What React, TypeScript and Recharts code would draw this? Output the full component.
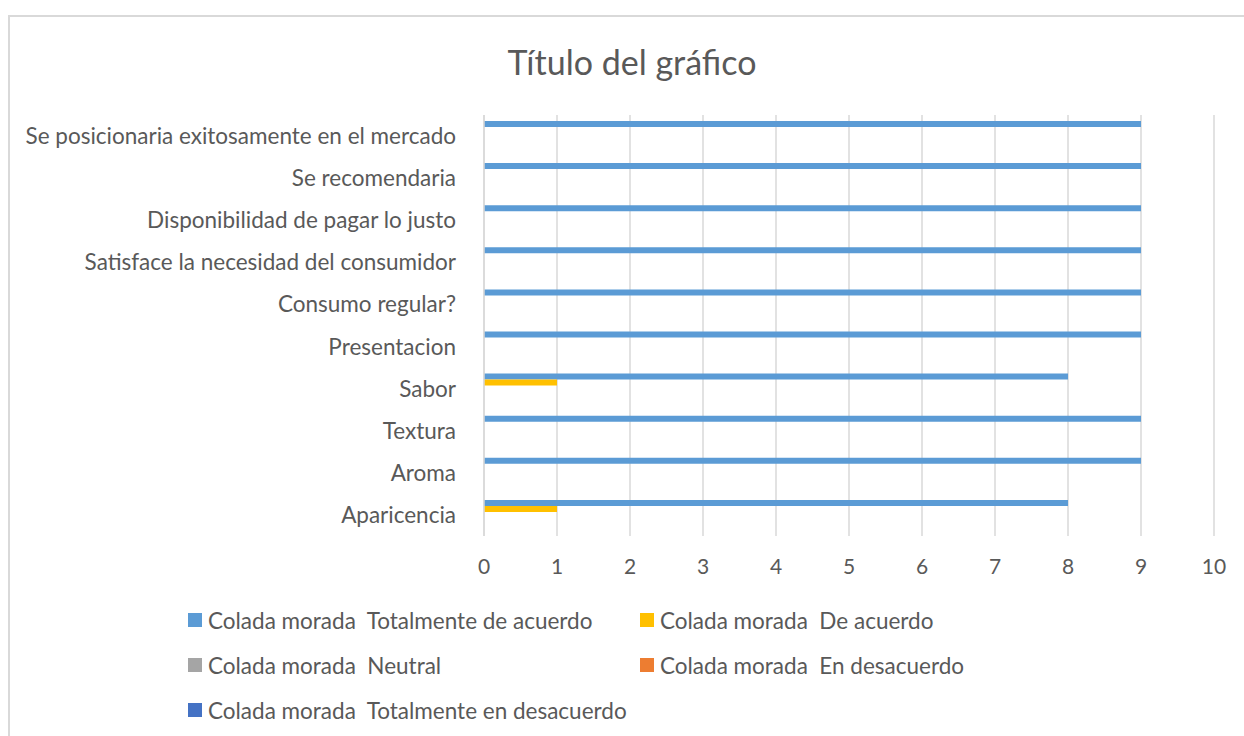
import { BarChart, Bar, XAxis, YAxis, CartesianGrid } from "recharts";

const categories = [
  "Se posicionaria exitosamente en el mercado",
  "Se recomendaria",
  "Disponibilidad de pagar lo justo",
  "Satisface la necesidad del consumidor",
  "Consumo regular?",
  "Presentacion",
  "Sabor",
  "Textura",
  "Aroma",
  "Aparicencia",
];

const totalmenteDeAcuerdo = [9, 9, 9, 9, 9, 9, 8, 9, 9, 8];
const deAcuerdo = [0, 0, 0, 0, 0, 0, 1, 0, 0, 1];
const neutral = [0, 0, 0, 0, 0, 0, 0, 0, 0, 0];
const enDesacuerdo = [0, 0, 0, 0, 0, 0, 0, 0, 0, 0];
const totalmenteEnDesacuerdo = [0, 0, 0, 0, 0, 0, 0, 0, 0, 0];

const xTicks = [0, 1, 2, 3, 4, 5, 6, 7, 8, 9, 10];

const series = [
  { key: "tda", name: "Colada morada  Totalmente de acuerdo", color: "#5B9BD5", values: totalmenteDeAcuerdo },
  { key: "da", name: "Colada morada  De acuerdo", color: "#FFC000", values: deAcuerdo },
  { key: "neu", name: "Colada morada  Neutral", color: "#A5A5A5", values: neutral },
  { key: "ed", name: "Colada morada  En desacuerdo", color: "#ED7D31", values: enDesacuerdo },
  { key: "ted", name: "Colada morada  Totalmente en desacuerdo", color: "#4472C4", values: totalmenteEnDesacuerdo },
];

const data = categories.map((name, i) => {
  const row: Record<string, string | number> = { name };
  series.forEach((s) => {
    row[s.key] = s.values[i];
  });
  return row;
});

const font = "Lato, 'Open Sans', sans-serif";
const textColor = "#595959";
const labelSize = 22.5;

// legend rows: two columns, left to right then down
const legendPos = [
  { left: 178, top: 592 },
  { left: 630, top: 592 },
  { left: 178, top: 637 },
  { left: 630, top: 637 },
  { left: 178, top: 682 },
];

export default function App() {
  return (
    <div
      style={{
        position: "fixed",
        left: 8,
        top: 15,
        width: 1236,
        height: 721,
        borderTop: "2px solid #d9d9d9",
        borderLeft: "2px solid #d9d9d9",
        background: "#fff",
        fontFamily: font,
        overflow: "hidden",
      }}
    >
      <div
        style={{
          position: "absolute",
          left: 0,
          width: 1244,
          top: 24,
          textAlign: "center",
          fontSize: 34,
          color: textColor,
        }}
      >
        Título del gráfico
      </div>
      <BarChart
        width={1234}
        height={719}
        data={data}
        layout="vertical"
        margin={{ top: 98, right: 30, bottom: 150, left: 0 }}
        barCategoryGap={6}
        barGap={0}
      >
        <CartesianGrid horizontal={false} stroke="#d9d9d9" strokeWidth={1.5} />
        <XAxis
          type="number"
          domain={[0, 10]}
          ticks={xTicks}
          interval={0}
          axisLine={false}
          tickLine={false}
          tickMargin={17}
          height={50}
          tick={{ fontSize: 21, fill: textColor, fontFamily: font }}
        />
        <YAxis
          type="category"
          dataKey="name"
          width={474}
          interval={0}
          axisLine={{ stroke: "#d9d9d9", strokeWidth: 1.5 }}
          tickLine={false}
          tickMargin={22}
          tick={{ fontSize: labelSize, fill: textColor, fontFamily: font }}
        />
        {series.map((s) => (
          <Bar key={s.key} dataKey={s.key} name={s.name} fill={s.color} isAnimationActive={false} />
        ))}
      </BarChart>
      {series.map((s, i) => (
        <div
          key={s.key}
          style={{
            position: "absolute",
            left: legendPos[i].left,
            top: legendPos[i].top,
            display: "flex",
            alignItems: "center",
            fontSize: labelSize,
            color: textColor,
            whiteSpace: "pre",
            height: 22,
          }}
        >
          <span style={{ display: "inline-block", width: 14, height: 14, background: s.color, marginRight: 6 }} />
          {s.name}
        </div>
      ))}
    </div>
  );
}
